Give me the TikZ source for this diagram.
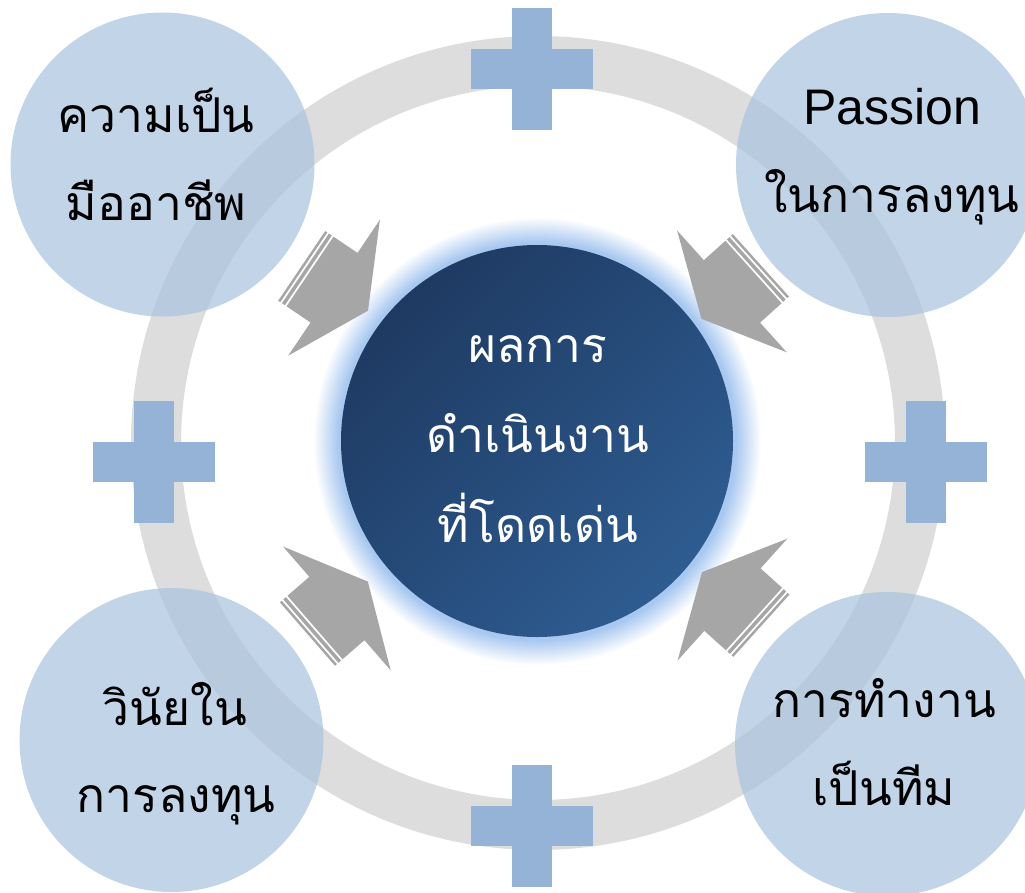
\documentclass[tikz,border=0pt]{standalone}
\usepackage{fontspec}
\newfontfamily\thaifont[Script=Thai]{Loma}
\newfontfamily\latinfont{Liberation Sans}
\definecolor{ringgray}{RGB}{221,221,221}
\definecolor{plusblue}{RGB}{149,179,215}
\definecolor{outerblue}{RGB}{169,194,222}
\definecolor{arrowgray}{RGB}{166,166,166}
\definecolor{cdark}{RGB}{30,58,98}
\definecolor{clight}{RGB}{46,92,145}
\definecolor{glowc}{RGB}{168,200,240}
\pgfdeclareradialshading{glowshade}{\pgfpoint{0bp}{0bp}}{color(0bp)=(glowc); color(22.2bp)=(glowc); color(25bp)=(white); color(50bp)=(white)}
\newcommand\plussign[2]{%
  \fill[plusblue] (#1-61,#2-20) rectangle (#1+61,#2+20);
  \fill[plusblue] (#1-20,#2-61) rectangle (#1+20,#2+61);}
\newcommand\stripedarrow[3]{%
  \begin{scope}[shift={(#1,#2)},rotate=#3]
    \fill[arrowgray] (0,-42) -- (29,-42) -- (29,-82) -- (70,0) -- (29,82) -- (29,42) -- (0,42) -- cycle;
    \fill[arrowgray] (-5.5,-42) rectangle (-2,42);
    \fill[arrowgray] (-10,-42) rectangle (-7.5,42);
  \end{scope}}
\begin{document}
\begin{tikzpicture}[x=1pt,y=-1pt,
  outer/.style={circle, fill=outerblue, fill opacity=0.7, minimum size=304pt, inner sep=0pt},
  otext/.style={anchor=base, text=black, inner sep=0pt, font=\thaifont\fontsize{48}{58}\selectfont},
  ctext/.style={anchor=base, text=white, inner sep=0pt, font=\thaifont\fontsize{48}{58}\selectfont}]
\useasboundingbox (0,0) rectangle (1025,892);
\fill[white] (0,0) rectangle (1025,892);
% ring
\draw[ringgray, line width=50pt] (538,443) circle[radius=382];
% plus signs
\plussign{532}{69}
\plussign{154}{462}
\plussign{926}{462}
\plussign{532}{826}
% outer circles
\node[outer] (tl) at (162.5,164.5) {};
\node[outer] (tr) at (888,165) {};
\node[outer] (bl) at (171.5,740) {};
\node[outer] (br) at (887,744) {};
% glow and center circle
\shade[shading=glowshade] (537,441) circle[radius=224];
\node[circle, minimum size=392pt, inner sep=0pt, top color=cdark, bottom color=clight, shading angle=45] (center) at (537,441) {};
% arrows
\stripedarrow{310}{271.5}{-34}
\stripedarrow{753.5}{272}{-138}
\stripedarrow{315}{627.5}{41}
\stripedarrow{754}{619}{138}
% texts
\node[otext] (tl1) at (156,132) {ความเป็น};
\node[otext] (tl2) at (156,220) {มืออาชีพ};
\node[otext, font=\latinfont\fontsize{50}{58}\selectfont] (tr1) at (892,124) {Passion};
\node[otext] (tr2) at (892,212) {ในการลงทุน};
\node[otext] (bl1) at (175,725) {วินัยใน};
\node[otext] (bl2) at (176,812) {การลงทุน};
\node[otext] (br1) at (884,717) {การทำงาน};
\node[otext] (br2) at (884,805) {เป็นทีม};
\node[ctext] (c1) at (538,362) {ผลการ};
\node[ctext] (c2) at (538,452) {ดำเนินงาน};
\node[ctext] (c3) at (538,542) {ที่โดดเด่น};
\end{tikzpicture}
\end{document}
